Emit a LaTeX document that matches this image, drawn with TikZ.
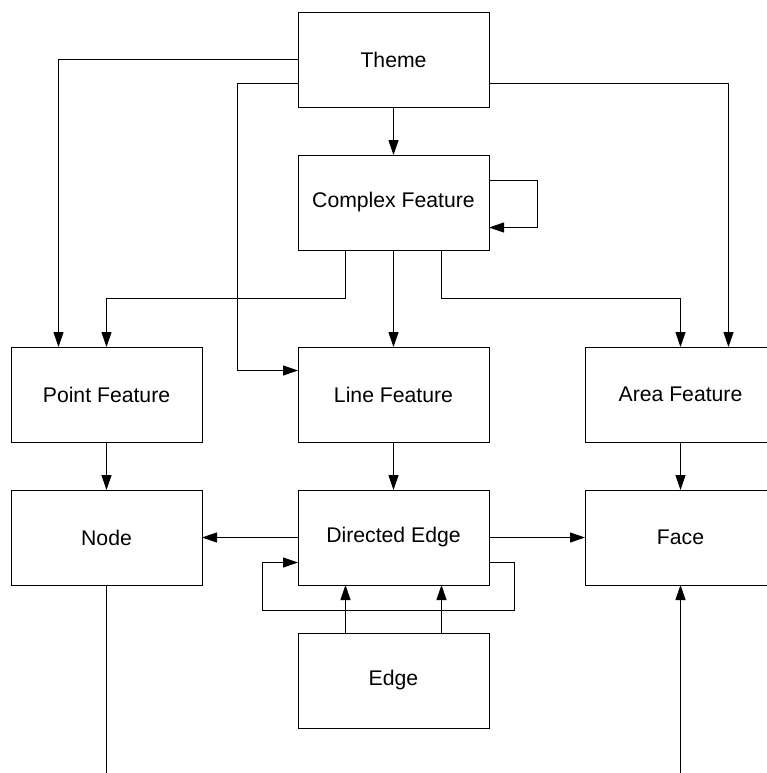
\documentclass[tikz,border=0pt]{standalone}
\usepackage{fontspec}
\setmainfont{Liberation Sans}
\usetikzlibrary{arrows.meta,positioning}

\begin{document}
\begin{tikzpicture}[
  font=\fontsize{10.6}{12}\selectfont, node distance=24pt and 48pt,
  line width=0.5pt,
  box/.style={draw, align=center, minimum width=95.5pt,
              minimum height=47.5pt, inner sep=0pt, outer sep=0pt},
  >={Triangle[length=7.5pt,width=5pt]}]
\useasboundingbox (0,0) rectangle (383.5pt,-386.5pt);
\node[box] (theme) at (196.75pt,-29.75pt) {Theme};
\node[box, below=of theme] (complex) {Complex Feature};
\node[box, below=48.5pt of complex] (line) {Line Feature};
\node[box, left=of line] (point) {Point Feature};
\node[box, right=of line] (area) {Area Feature};
\node[box, below=of point] (node) {Node};
\node[box, below=of line] (dedge) {Directed Edge};
\node[box, below=of area] (face) {Face};
\node[box, below=of dedge] (edge) {Edge};
\coordinate (nodeend) at (node.south |- 0,-386.5pt);
\coordinate (faceend) at (face.south |- 0,-386.5pt);
\draw[->] (theme) -- (complex);
\draw[->] (theme.west) -| ([xshift=-24pt]point.north);
\draw[->] ([yshift=-12pt]theme.west)
  -| ([xshift=-30.5pt,yshift=12pt]line.west) -- ([yshift=12pt]line.west);
\draw[->] ([yshift=-12pt]theme.east) -| ([xshift=24pt]area.north);
\draw[->] ([yshift=11pt]complex.east) -- ++(24pt,0)
  |- ([yshift=-12.5pt]complex.east);
\draw[->] ([xshift=-24pt]complex.south) -- ++(0,-24.25pt) -| (point.north);
\draw[->] (complex) -- (line);
\draw[->] ([xshift=24pt]complex.south) -- ++(0,-24.25pt) -| (area.north);
\draw[->] (point) -- (node);
\draw[->] (line) -- (dedge);
\draw[->] (area) -- (face);
\draw[->] (dedge) -- (node);
\draw[->] (dedge) -- (face);
\draw[->] ([yshift=-12.5pt]dedge.east) -- ++(12.5pt,0) -- ++(0,-24pt)
  -| ([xshift=-18pt,yshift=-12.5pt]dedge.west) -- ([yshift=-12.5pt]dedge.west);
\draw[->] ([xshift=-24pt]edge.north) -- ([xshift=-24pt]dedge.south);
\draw[->] ([xshift=24pt]edge.north) -- ([xshift=24pt]dedge.south);
\draw (node.south) -- (nodeend);
\draw[->] (faceend) -- (face.south);
\end{tikzpicture}
\end{document}
